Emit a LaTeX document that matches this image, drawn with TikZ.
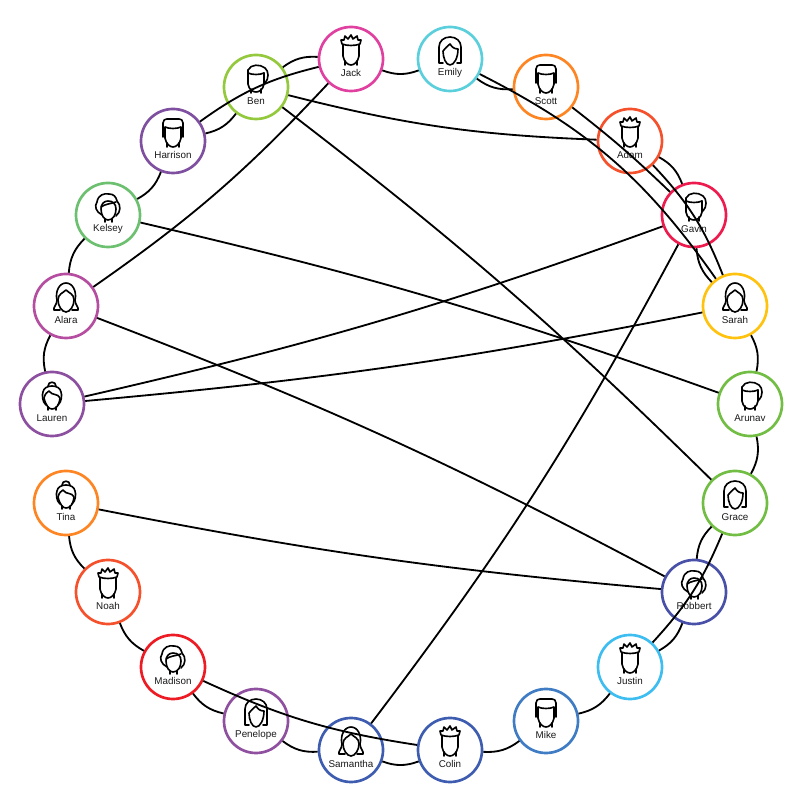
\documentclass[tikz,border=0pt]{standalone}
\usepackage{fontspec}
\setmainfont{Liberation Sans}

\definecolor{jackpink}{HTML}{E040A0}
\definecolor{emilycyan}{HTML}{5BCFDC}
\definecolor{scottorange}{HTML}{FD8523}
\definecolor{adamred}{HTML}{F4512C}
\definecolor{gavinred}{HTML}{EE1C4E}
\definecolor{sarahyellow}{HTML}{FFC20E}
\definecolor{arunavgreen}{HTML}{72BE44}
\definecolor{robbertblue}{HTML}{4950A8}
\definecolor{justinblue}{HTML}{3EBDF0}
\definecolor{mikeblue}{HTML}{3F7CC4}
\definecolor{colinblue}{HTML}{3F5DB0}
\definecolor{penelopepurple}{HTML}{9050A0}
\definecolor{madisonred}{HTML}{ED1C24}
\definecolor{laurenpurple}{HTML}{8D4FA0}
\definecolor{alarapurple}{HTML}{B54EA0}
\definecolor{kelseygreen}{HTML}{6CC070}
\definecolor{harrisonpurple}{HTML}{7F4FA0}
\definecolor{bengreen}{HTML}{94C83D}

\tikzset{
  person/.style={circle,line width=1.9pt,minimum size=1.6cm,inner sep=0pt},
  who/.style={yshift=-.355cm,font=\fontsize{7}{8}\selectfont,text=black!90},
  link/.style={line width=1.3pt,black},
  icon/.style={line width=1.15pt,black,line join=round,line cap=round},
  crown/.pic={
    \draw[icon] (-8,14) -- (-8,3) .. controls (-7,-3) and (-3,-6) .. (0,-6) .. controls (3,-6) and (7,-3) .. (8,3) -- (8,14);
    \draw[icon] (-9,15) -- (-10,19) -- (-7,19) -- (-6,23) -- (-3,20) -- (0,24) -- (2,20) -- (6,23) -- (7,19) -- (10,19) -- (9,15) .. controls (4,13) and (-4,13) .. (-9,15);
    \draw[icon] (-6,-2) -- (-6,-6) (6,-2) -- (6,-6);
  },
  flat/.pic={
    \draw[icon] (-10,4) -- (-10,18) .. controls (-10,21) and (-8,22) .. (-6,22) -- (6,22) .. controls (8,22) and (10,21) .. (10,18) -- (10,4);
    \draw[icon] (-8,14) .. controls (-4,12) and (4,12) .. (8,14) -- (8,3) .. controls (7,-3) and (3,-6) .. (0,-6) .. controls (-3,-6) and (-7,-3) .. (-8,3) -- cycle;
    \draw[icon] (-6,-2) -- (-6,-6) (6,-2) -- (6,-6);
  },
  quiff/.pic={
    \draw[icon] (-8,17) -- (-8,3) .. controls (-7,-3) and (-3,-5) .. (0,-5) .. controls (3,-5) and (7,-3) .. (8,3) -- (8,14);
    \draw[icon] (-8,17) .. controls (-5,23) and (4,23) .. (9,19) .. controls (13,16) and (13,8) .. (9,4);
    \draw[icon] (-8,14) .. controls (-4,12) and (4,12) .. (8,14);
    \draw[icon] (-5,-2) -- (-5,-6) (5,-2) -- (5,-6);
  },
  longhair/.pic={
    \draw[icon] (-7,-4) -- (-11,-4) -- (-11,12) .. controls (-11,18) and (-6,22) .. (0,22) .. controls (6,22) and (11,18) .. (11,12) -- (11,-4) -- (7,-4);
    \draw[icon] (-7,8) .. controls (-7,1) and (-4,-6) .. (0,-6) .. controls (4,-6) and (8,1) .. (8,10) .. controls (4,10) and (2,12) .. (0,15) .. controls (-2,13) and (-5,11) .. (-7,8);
  },
  wavy/.pic={
    \draw[icon] (-6,-4) -- (-12,-4) .. controls (-13,-1) and (-9,1) .. (-9,6) .. controls (-11,14) and (-7,23) .. (0,23) .. controls (7,23) and (11,14) .. (9,6) .. controls (9,1) and (13,-1) .. (12,-4) -- (6,-4);
    \draw[icon] (0,16) .. controls (-3,13) and (-8,12) .. (-8,6) .. controls (-8,0) and (-4,-6) .. (0,-6) .. controls (4,-6) and (8,0) .. (8,6) .. controls (8,12) and (3,13) .. (0,16);
  },
  bun/.pic={
    \draw[icon] (-4,18) .. controls (-4,23) and (4,23) .. (4,18);
    \draw[icon] (-6,-1) .. controls (-10,2) and (-10,10) .. (-9,12) .. controls (-8,20) and (8,20) .. (9,12) .. controls (10,10) and (10,2) .. (6,-1);
    \draw[icon] (-8,6) .. controls (-6,-2) and (-3,-5) .. (0,-5) .. controls (4,-5) and (7,-2) .. (8,6) .. controls (6,11) and (0,8) .. (-3,13) .. controls (-5,12) and (-7,10) .. (-8,6);
    \draw[icon] (-4,-3) -- (-4,-6) (4,-3) -- (4,-6);
  },
  curly/.pic={
    \draw[icon] (-6,0) .. controls (-12,3) and (-14,9) .. (-11,13) .. controls (-10,20) and (-4,22) .. (1,21) .. controls (6,21) and (8,18) .. (9,14) .. controls (13,10) and (13,3) .. (8,-1);
    \draw[icon] (-7,6) .. controls (-7,0) and (-4,-5) .. (0,-5) .. controls (5,-5) and (8,0) .. (8,6) .. controls (8,11) and (5,14) .. (0,14) .. controls (-4,14) and (-7,11) .. (-7,6);
    \draw[icon] (-7,8) .. controls (-3,11) and (2,11) .. (8,13);
    \draw[icon] (-3,-4) -- (-3,-7) (4,-4) -- (4,-7);
  }
}

\begin{document}
\begin{tikzpicture}[x=.025cm,y=.025cm]
\useasboundingbox (0,0) rectangle (800,800);

\node[person,draw=jackpink,label={[who]center:Jack}] (jack) at (351,741) {};
\node[person,draw=emilycyan,label={[who]center:Emily}] (emily) at (450,741) {};
\node[person,draw=scottorange,label={[who]center:Scott}] (scott) at (546,713) {};
\node[person,draw=adamred,label={[who]center:Adam}] (adam) at (630,659) {};
\node[person,draw=gavinred,label={[who]center:Gavin}] (gavin) at (694,585) {};
\node[person,draw=sarahyellow,label={[who]center:Sarah}] (sarah) at (735,494) {};
\node[person,draw=arunavgreen,label={[who]center:Arunav}] (arunav) at (750,396) {};
\node[person,draw=arunavgreen,label={[who]center:Grace}] (grace) at (735,297) {};
\node[person,draw=robbertblue,label={[who]center:Robbert}] (robbert) at (694,208) {};
\node[person,draw=justinblue,label={[who]center:Justin}] (justin) at (630,133) {};
\node[person,draw=mikeblue,label={[who]center:Mike}] (mike) at (546,79) {};
\node[person,draw=colinblue,label={[who]center:Colin}] (colin) at (450,50) {};
\node[person,draw=colinblue,label={[who]center:Samantha}] (samantha) at (351,50) {};
\node[person,draw=penelopepurple,label={[who]center:Penelope}] (penelope) at (256,79) {};
\node[person,draw=madisonred,label={[who]center:Madison}] (madison) at (173,133) {};
\node[person,draw=adamred,label={[who]center:Noah}] (noah) at (108,208) {};
\node[person,draw=scottorange,label={[who]center:Tina}] (tina) at (66,297) {};
\node[person,draw=laurenpurple,label={[who]center:Lauren}] (lauren) at (52,396) {};
\node[person,draw=alarapurple,label={[who]center:Alara}] (alara) at (66,494) {};
\node[person,draw=kelseygreen,label={[who]center:Kelsey}] (kelsey) at (108,585) {};
\node[person,draw=harrisonpurple,label={[who]center:Harrison}] (harrison) at (173,659) {};
\node[person,draw=bengreen,label={[who]center:Ben}] (ben) at (256,713) {};

\pic at (jack) {crown};
\pic at (adam) {crown};
\pic at (noah) {crown};
\pic at (justin) {crown};
\pic at (colin) {crown};
\pic at (scott) {flat};
\pic at (harrison) {flat};
\pic at (mike) {flat};
\pic at (ben) {quiff};
\pic at (gavin) {quiff};
\pic at (arunav) {quiff};
\pic at (emily) {longhair};
\pic at (penelope) {longhair};
\pic at (grace) {longhair};
\pic at (sarah) {wavy};
\pic at (alara) {wavy};
\pic at (samantha) {wavy};
\pic at (lauren) {bun};
\pic at (tina) {bun};
\pic at (kelsey) {curly};
\pic at (madison) {curly};
\pic at (robbert) {curly};

\draw[link] (jack) to[bend right=20] (emily);
\draw[link] (emily) to[bend right=20] (scott);
\draw[link] (jack) to[bend right=20] (ben);
\draw[link] (ben) to[bend left=20] (harrison);
\draw[link] (harrison) to[bend left=20] (kelsey);
\draw[link] (kelsey) to[bend right=20] (alara);
\draw[link] (alara) to[bend right=20] (lauren);
\draw[link] (tina) to[bend right=20] (noah);
\draw[link] (noah) to[bend right=20] (madison);
\draw[link] (madison) to[bend right=20] (penelope);
\draw[link] (penelope) to[bend right=20] (samantha);
\draw[link] (samantha) to[bend right=20] (colin);
\draw[link] (colin) to[bend right=20] (mike);
\draw[link] (mike) to[bend right=20] (justin);
\draw[link] (justin) to[bend right=20] (robbert);
\draw[link] (robbert) to[bend left=20] (grace);
\draw[link] (grace) to[bend right=20] (arunav);
\draw[link] (arunav) to[bend right=20] (sarah);
\draw[link] (sarah) to[bend left=20] (gavin);
\draw[link] (adam) to[bend left=20] (gavin);

\draw[link] (adam) to[bend left=11] (sarah);
\draw[link] (emily) to[bend left=14] (sarah);
\draw[link] (scott) to[bend left=3] (gavin);
\draw[link] (jack) to[bend right=11] (harrison);
\draw[link] (justin) to[bend right=10] (grace);
\draw[link] (jack) to[bend left=6] (alara);
\draw[link] (ben) to[bend right=6] (adam);
\draw[link] (ben) to[bend left=3.5] (grace);
\draw[link] (kelsey) to[bend left=3.3] (arunav);
\draw[link] (alara) to[bend left=3.5] (robbert);
\draw[link] (lauren) to[bend right=3.5] (gavin);
\draw[link] (lauren) to[bend right=3] (sarah);
\draw[link] (tina) to[bend right=3] (robbert);
\draw[link] (samantha) to[bend right=4.5] (gavin);
\draw[link] (madison) to[bend right=8] (colin);
\end{tikzpicture}
\end{document}
